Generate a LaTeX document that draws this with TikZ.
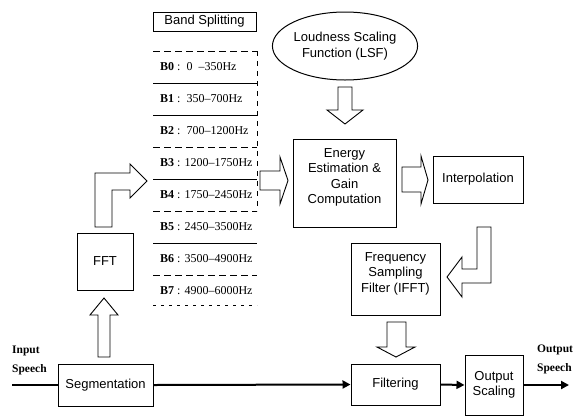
\documentclass[tikz,border=0pt]{standalone}
\usepackage{fontspec}
\setmainfont{Liberation Sans}
\newfontfamily\serifb{Liberation Serif}
\usetikzlibrary{arrows.meta,shapes.geometric}
\begin{document}
\begin{tikzpicture}[x=1pt,y=-1pt,
 box/.style={draw, line width=1pt, align=center, font=\fontsize{13}{15.5}\selectfont, inner sep=0pt},
 barrow/.style={draw, line width=0.9pt, fill=white, line join=miter},
 bandtxt/.style={anchor=west, font=\serifb\fontsize{12}{13}\selectfont, inner sep=0pt},
 sepline/.style={line width=0.7pt},
 sepdash/.style={line width=0.7pt, dash pattern=on 7pt off 4pt},
 sig/.style={line width=2pt},
 sigarrow/.style={line width=2pt, -{Triangle[length=8pt,width=8pt]}},
 lbl/.style={font=\serifb\bfseries\fontsize{11.5}{19}\selectfont, align=left, inner sep=0pt},
]
\useasboundingbox (0,0) rectangle (577,418);

% boxes
\node[box, minimum width=103, minimum height=19] (bs) at (204.5,21.5) {Band Splitting};
\node[box, ellipse, minimum width=142, minimum height=68] (lsf) at (345,46) {Loudness Scaling\\Function (LSF)};
\node[box, minimum width=103, minimum height=88] (eng) at (344.5,183) {Energy\\Estimation \&\\Gain\\Computation\\[-2pt]\mbox{}};
\node[box, minimum width=90, minimum height=47] (interp) at (478,179.5) {Interpolation};
\node[box, minimum width=89, minimum height=72] (fs) at (395.5,279) {Frequency\\Sampling\\Filter (IFFT)\\[-2pt]\mbox{}};
\node[box, minimum width=89, minimum height=41] (filt) at (395.5,384.5) {Filtering};
\node[box, minimum width=58, minimum height=60] (os) at (494,385) {Output\\Scaling};
\node[box, minimum width=95, minimum height=42] (seg) at (105.5,385) {Segmentation};
\node[box, minimum width=56, minimum height=57] (fft) at (105,261.5) {FFT};

% band table
\node[bandtxt] (b0) at (160,67)  {\textbf{B0} :\ \ 0 \ –350Hz};
\node[bandtxt] (b1) at (160,99)  {\textbf{B1} :\ \ 350–700Hz};
\node[bandtxt] (b2) at (160,131) {\textbf{B2} :\ \ 700–1200Hz};
\node[bandtxt] (b3) at (160,163) {\textbf{B3} : 1200–1750Hz};
\node[bandtxt] (b4) at (160,195) {\textbf{B4} : 1750–2450Hz};
\node[bandtxt] (b5) at (160,227) {\textbf{B5} : 2450–3500Hz};
\node[bandtxt] (b6) at (160,259) {\textbf{B6} : 3500–4900Hz};
\node[bandtxt] (b7) at (160,291) {\textbf{B7} : 4900–6000Hz};
\draw[sepdash] (153,51) -- (257,51);
\draw[sepline] (153,83) -- (257,83);
\draw[sepline] (153,115) -- (257,115);
\draw[sepdash] (153,147) -- (257,147);
\draw[sepline] (153,179) -- (257,179);
\draw[sepdash] (153,211) -- (257,211);
\draw[sepline] (153,243) -- (257,243);
\draw[sepdash] (153,275) -- (257,275);
\draw[sepdash, dash pattern=on 3pt off 5pt] (153,305) -- (257,305);
\draw[sepdash, dash pattern=on 5pt off 5pt] (257,51) -- (257,211);

% block arrows
\draw[barrow] (338,87) -- (352,87) -- (352,110) -- (363,110) -- (345,124) -- (327,110) -- (338,110) -- cycle;
\draw[barrow] (260,171) -- (280,171) -- (280,157) -- (288,180.5) -- (280,204) -- (280,190) -- (260,190) -- cycle;
\draw[barrow] (402,167) -- (421,167) -- (421,156) -- (428,180) -- (421,204) -- (421,192) -- (402,192) -- cycle;
\draw[barrow] (477,227) -- (491,227) -- (491,283) -- (462,283) -- (462,297) -- (447,277) -- (462,257) -- (462,269) -- (477,269) -- cycle;
\draw[barrow] (387,322) -- (406,322) -- (406,347) -- (415,347) -- (396,357) -- (377,347) -- (387,347) -- cycle;
\draw[barrow] (98,357) -- (110,357) -- (110,315) -- (118,315) -- (104,298) -- (90,315) -- (98,315) -- cycle;
\draw[barrow] (95,227) -- (112,227) -- (112,190) -- (130,190) -- (130,198) -- (147,181) -- (130,164) -- (130,173) -- (95,173) -- cycle;

% signal path
\coordinate (in) at (12,385);
\coordinate (out) at (569,385);
\draw[sig] (in) -- (seg.west);
\draw[sigarrow] (seg.east) -- (filt.west);
\draw[sigarrow] (filt.east) -- (os.west);
\draw[sigarrow] (os.east) -- (out);

\node[lbl, anchor=west] (inlbl) at (12,360) {Input\\Speech};
\node[lbl, anchor=west] (outlbl) at (537,359) {Output\\Speech};
\end{tikzpicture}
\end{document}
